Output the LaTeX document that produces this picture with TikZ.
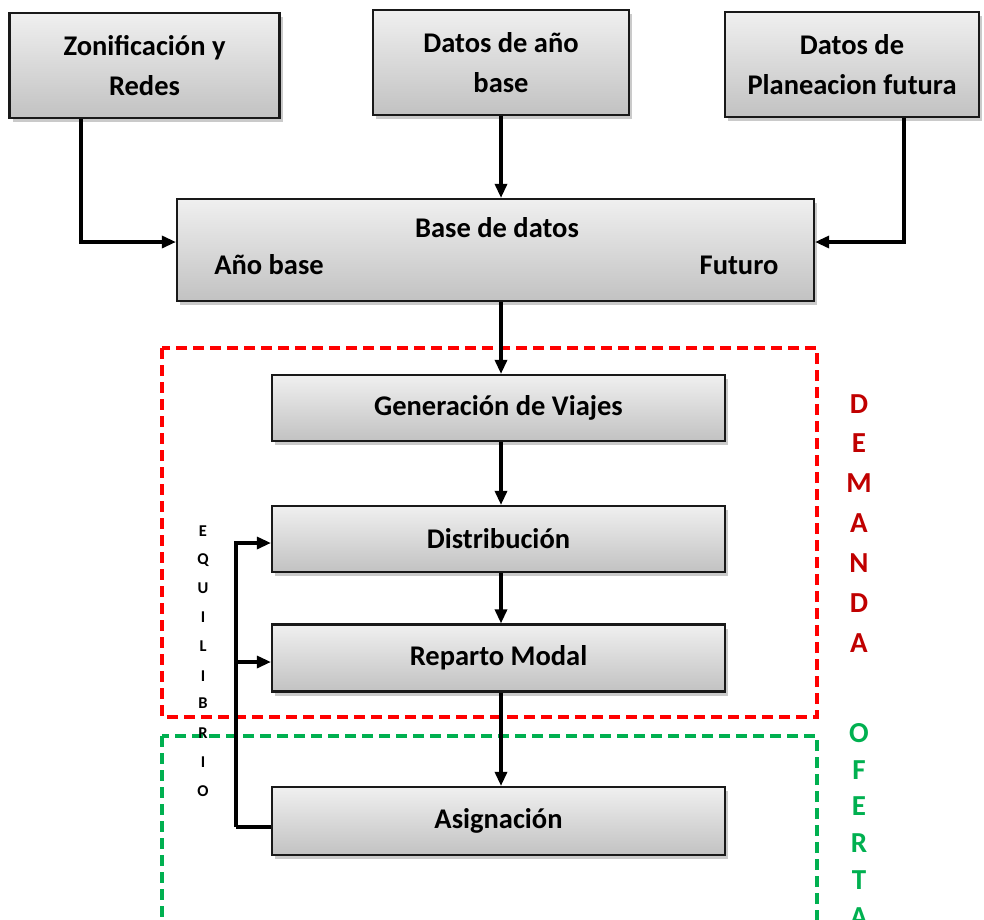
\documentclass[tikz,border=0pt]{standalone}
\usepackage{fontspec}
\setmainfont{Carlito}
\usetikzlibrary{arrows.meta,shadows,calc}
\definecolor{dred}{HTML}{C00000}
\definecolor{mygreen}{HTML}{00B050}
\begin{document}
\begin{tikzpicture}[x=1pt,y=-1pt,
  box/.style={draw=black!90,line width=2.2pt,top color=gray!12,bottom color=gray!48,
    drop shadow={shadow xshift=3pt,shadow yshift=-4pt,opacity=0.35,fill=black!60},
    font=\fontsize{28.5}{40}\selectfont\bfseries,align=center,inner sep=0pt},
  conn/.style={line width=3.2pt,-{Triangle[length=14pt,width=12pt]}},
  plain/.style={line width=3.2pt},
  frame/.style={line width=3.4pt,dash pattern=on 11pt off 6pt},
  vlet/.style={font=\fontsize{29}{29}\selectfont\bfseries,inner sep=0pt},
  elet/.style={font=\fontsize{16.5}{16.5}\selectfont\bfseries,inner sep=0pt}]
\useasboundingbox (0,0) rectangle (984,919);
\clip (0,0) rectangle (984,919);

% dashed frames
\draw[frame,draw=red] (162,348) rectangle (817,717);
\draw[frame,draw=mygreen] (162,736) rectangle (817,960);

% boxes
\node[box,minimum width=270pt,minimum height=105pt] (zon) at (144.5,65.5) {Zonificación y\\Redes};
\node[box,minimum width=256pt,minimum height=105pt] (dab) at (501,62.5) {Datos de año\\base};
\node[box,minimum width=254pt,minimum height=105pt] (pf) at (852,64.5) {Datos de\\Planeacion futura};
\node[box,minimum width=637pt,minimum height=102pt] (bd) at (495.5,250) {};
\node[font=\fontsize{28.5}{28.5}\selectfont\bfseries,inner sep=0pt] (bdt) at (497,228) {Base de datos};
\node[font=\fontsize{28.5}{28.5}\selectfont\bfseries,inner sep=0pt] (bda) at (269,265) {Año base};
\node[font=\fontsize{28.5}{28.5}\selectfont\bfseries,inner sep=0pt] (bdf) at (739,265) {Futuro};
\node[box,minimum width=453pt,minimum height=66pt] (gen) at (498.5,408) {Generación de Viajes};
\node[box,minimum width=453pt,minimum height=66pt] (dist) at (498.5,539) {Distribución};
\node[box,minimum width=453pt,minimum height=67pt] (rep) at (498.5,658) {Reparto Modal};
\node[box,minimum width=453pt,minimum height=68pt] (asig) at (498.5,821) {Asignación};

% connectors
\draw[conn] ([xshift=-63.5pt]zon.south) |- ([yshift=8pt]bd.west);
\draw[conn] (dab.south) -- (dab.south |- bd.north);
\draw[conn] ([xshift=52pt]pf.south) |- ([yshift=8pt]bd.east);
\draw[conn] (bd.south -| dab.south) -- (gen.north -| dab.south);
\draw[conn] (gen.south -| dab.south) -- (dist.north -| dab.south);
\draw[conn] (dist.south -| dab.south) -- (rep.north -| dab.south);
\draw[conn] (rep.south -| dab.south) -- (asig.north -| dab.south);

% feedback
\coordinate (fb) at (236,827);
\coordinate (fbr) at (236,662);
\draw[plain] ([yshift=-6pt]asig.west) -- (fb);
\draw[conn] (fb) |- ([yshift=-4pt]dist.west);
\draw[conn] (fbr) -- ([yshift=-4pt]rep.west);

% DEMANDA
\foreach \l/\y [count=\i] in {D/404,E/443,M/483,A/523,N/563,D/603,A/643}
  \node[vlet,text=dred] (dem\i) at (859,\y) {\l};
% OFERTA
\foreach \l/\y [count=\i] in {O/733,F/770,E/806,R/843,T/880,A/917}
  \node[vlet,text=mygreen] (of\i) at (859,\y) {\l};
% EQUILIBRIO
\foreach \l/\y [count=\i] in {E/531,Q/560,U/588,I/617,L/646,I/676,B/703,R/733,I/762,O/791}
  \node[elet] (eq\i) at (203,\y) {\l};
\end{tikzpicture}
\end{document}
